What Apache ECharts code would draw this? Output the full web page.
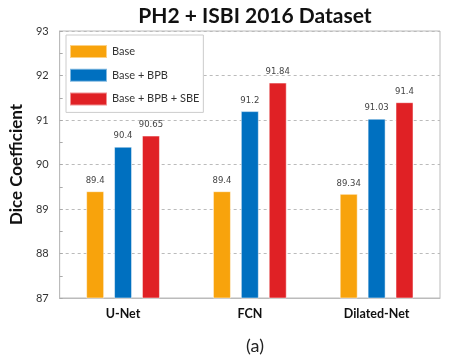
<!DOCTYPE html>
<html><head><meta charset="utf-8">
<script src="https://cdn.jsdelivr.net/npm/echarts@6/dist/echarts.min.js"></script>
<style>html,body{margin:0;padding:0;background:#fff}#c{width:452px;height:356px}</style>
</head><body><div id="c"></div>
<script>
var categories = ['U-Net', 'FCN', 'Dilated-Net'];
var seriesNames = ['Base', 'Base + BPB', 'Base + BPB + SBE'];
var baseVals = [89.4, 89.4, 89.34];
var bpbVals = [90.4, 91.2, 91.03];
var sbeVals = [90.65, 91.84, 91.4];
var colors = ['#F8A30C', '#0070C0', '#E02125'];
var font = 'Lato, "Open Sans", sans-serif';
var chart = echarts.init(document.getElementById('c'));
function mk(name, data, color) {
  return {
    name: name, type: 'bar', data: data, barWidth: 18, barGap: '55%',
    itemStyle: {color: color, borderColor: 'rgba(255,255,255,0.5)', borderWidth: 1},
    label: {show: true, position: 'top', distance: 6, fontSize: 8.5, color: '#444', fontFamily: 'DejaVu Sans'}
  };
}
chart.setOption({
  animation: false,
  title: [{text: 'PH2 + ISBI 2016 Dataset', left: 250, top: 1, textAlign: 'center',
    textStyle: {fontSize: 21, fontWeight: 'bold', color: '#111', fontFamily: font}},
    {text: '(a)', left: 250, top: 332, textAlign: 'center',
    textStyle: {fontSize: 18, fontWeight: 'normal', color: '#222', fontFamily: font}}],
  legend: {
    orient: 'vertical', left: 66, top: 35, data: seriesNames,
    itemWidth: 37, itemHeight: 13, itemGap: 8.7,
    padding: [9, 4, 6, 3], borderColor: '#ccc', borderWidth: 1, backgroundColor: '#fff',
    icon: 'rect', textStyle: {fontSize: 11, color: '#333', fontFamily: font}
  },
  grid: {left: 59, right: 12, top: 31, bottom: 58, show: true, borderColor: '#bbb', borderWidth: 1},
  xAxis: {
    type: 'category', data: categories,
    axisLine: {lineStyle: {color: '#bbb'}}, axisTick: {show: false},
    axisLabel: {fontSize: 12.5, fontWeight: 'bold', color: '#111', margin: 9, fontFamily: font}
  },
  yAxis: {
    type: 'value', min: 87, max: 93, interval: 1,
    name: 'Dice Coefficient', nameLocation: 'middle', nameGap: 31,
    nameTextStyle: {fontSize: 17, fontWeight: 'bold', color: '#111', fontFamily: font},
    axisLine: {show: true, lineStyle: {color: '#bbb'}},
    axisTick: {show: true, inside: true, length: 3, lineStyle: {color: '#aaa'}},
    minorTick: {show: true, splitNumber: 2, length: 3, lineStyle: {color: '#aaa'}},
    splitLine: {lineStyle: {type: [3, 3], color: '#bbb'}},
    axisLabel: {fontSize: 11, color: '#333', margin: 11, fontFamily: font}
  },
  series: [mk(seriesNames[0], baseVals, colors[0]), mk(seriesNames[1], bpbVals, colors[1]), mk(seriesNames[2], sbeVals, colors[2])]
});
</script></body></html>
